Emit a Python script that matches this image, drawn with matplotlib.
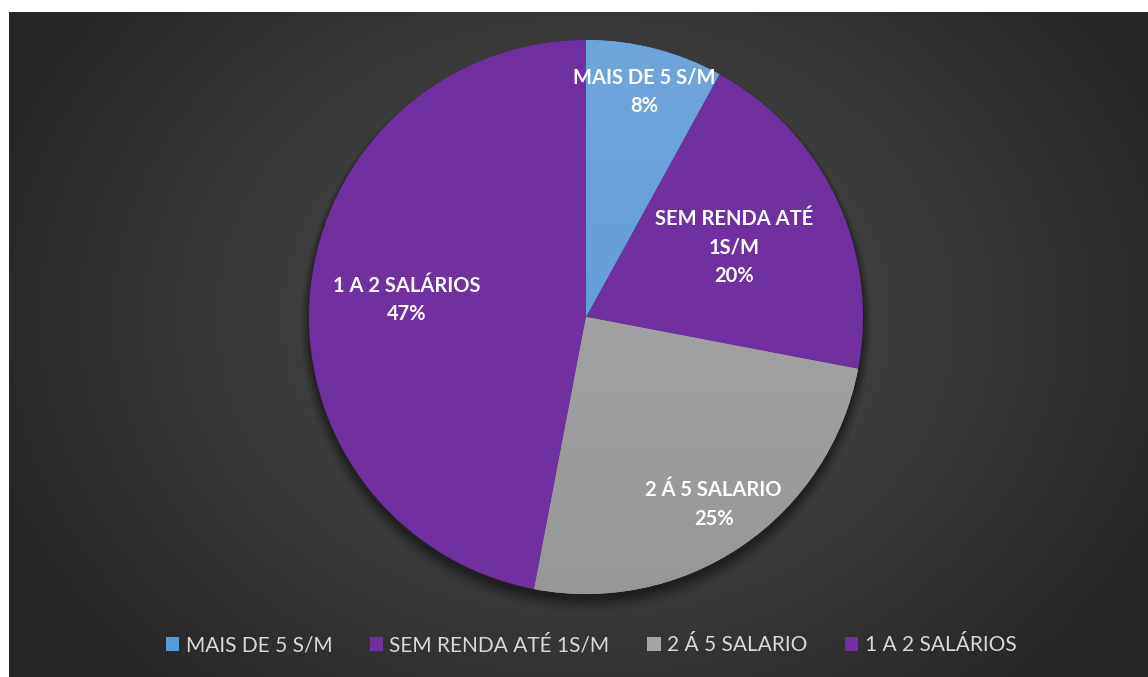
import numpy as np
import matplotlib
matplotlib.use("Agg")
import matplotlib.pyplot as plt
from matplotlib.patches import Rectangle, Circle
from matplotlib.colors import LinearSegmentedColormap

categories = ["MAIS DE 5 S/M", "SEM RENDA ATÉ 1S/M", "2 Á 5 SALARIO", "1 A 2 SALÁRIOS"]
label_texts = ["MAIS DE 5 S/M", "SEM RENDA ATÉ\n1S/M", "2 Á 5 SALARIO", "1 A 2 SALÁRIOS"]
values = [8, 20, 25, 47]

colors = ["#65A0DA", "#7030A0", "#A3A3A3", "#7030A0"]
label_radii = [0.84, 0.59, 0.82, 0.65]

W, H = 1148, 677
fig = plt.figure(figsize=(W / 100, H / 100), dpi=100)
fig.patch.set_facecolor("white")
ax = fig.add_axes([0, 0, 1, 1])
ax.set_xlim(0, W)
ax.set_ylim(0, H)
ax.axis("off")

# background radial gradient
bx0, bx1, by0, by1 = 9, W, 0, H - 12
cx, cy = 586, H - 317
R = 277
xs = np.linspace(bx0, bx1, 600)
ys = np.linspace(by0, by1, 360)
X, Y = np.meshgrid(xs, ys)
d = np.sqrt(((X - cx) / 640.0) ** 2 + ((Y - cy) / 520.0) ** 2)
d = np.clip(d, 0, 1)
c0 = np.array([0x50, 0x50, 0x50]) / 255
c1 = np.array([0x26, 0x26, 0x26]) / 255
img = c0[None, None, :] * (1 - d[..., None]) + c1[None, None, :] * d[..., None]
ax.imshow(img, extent=(bx0, bx1, by0, by1), origin="lower", zorder=0, aspect="auto")

# soft shadow under the pie
for i, a in enumerate(np.linspace(0.10, 0.02, 8)):
    sh = Circle((cx, cy - 4 - i * 0.8), R + 1 + i * 1.2, facecolor="black", alpha=a,
                edgecolor="none", zorder=1)
    ax.add_patch(sh)

wedges, _ = ax.pie(values, colors=colors, startangle=90, counterclock=False,
                   center=(cx, cy), radius=R, frame=True,
                   wedgeprops=dict(linewidth=0, zorder=2))
ax.set_xlim(0, W)
ax.set_ylim(0, H)
ax.set_aspect("auto")
ax.axis("off")

# gradient fill for gray slice
gcm = LinearSegmentedColormap.from_list("g", ["#979797", "#ADADAD"])
grad = np.linspace(0, 1, 256)[:, None]
gim = ax.imshow(grad, extent=(cx - R, cx + R, cy - R, cy + R), origin="lower",
                cmap=gcm, aspect="auto", zorder=3)
gim.set_clip_path(wedges[2])

# subtle gradient on blue slice
bcm = LinearSegmentedColormap.from_list("b", ["#5B97D6", "#6EA6DC"])
bim = ax.imshow(grad, extent=(cx - R, cx + R, cy - R, cy + R), origin="lower",
                cmap=bcm, aspect="auto", zorder=3)
bim.set_clip_path(wedges[0])

font = "Lato"
for w, txt, v, r in zip(wedges, label_texts, values, label_radii):
    ang = np.deg2rad((w.theta1 + w.theta2) / 2)
    x = cx + r * R * np.cos(ang)
    y = cy + r * R * np.sin(ang)
    ax.text(x, y, f"{txt}\n{v}%", ha="center", va="center", color="white",
            fontsize=14.5, fontweight="bold", family=font, linespacing=1.55, zorder=5)

handles = [Rectangle((0, 0), 1, 1, facecolor=c, edgecolor="none") for c in
           ["#5B9BD5", "#7030A0", "#A5A5A5", "#7030A0"]]
leg = fig.legend(handles, categories, loc="center", bbox_to_anchor=(591 / W, 1 - 645 / H),
                 ncol=4, frameon=False, handlelength=0.65, handleheight=0.65,
                 handletextpad=0.3, columnspacing=1.8,
                 prop=dict(family=font, size=15))
for t in leg.get_texts():
    t.set_color("#D9D9D9")

fig.savefig("out.png", dpi=100, facecolor="white")
